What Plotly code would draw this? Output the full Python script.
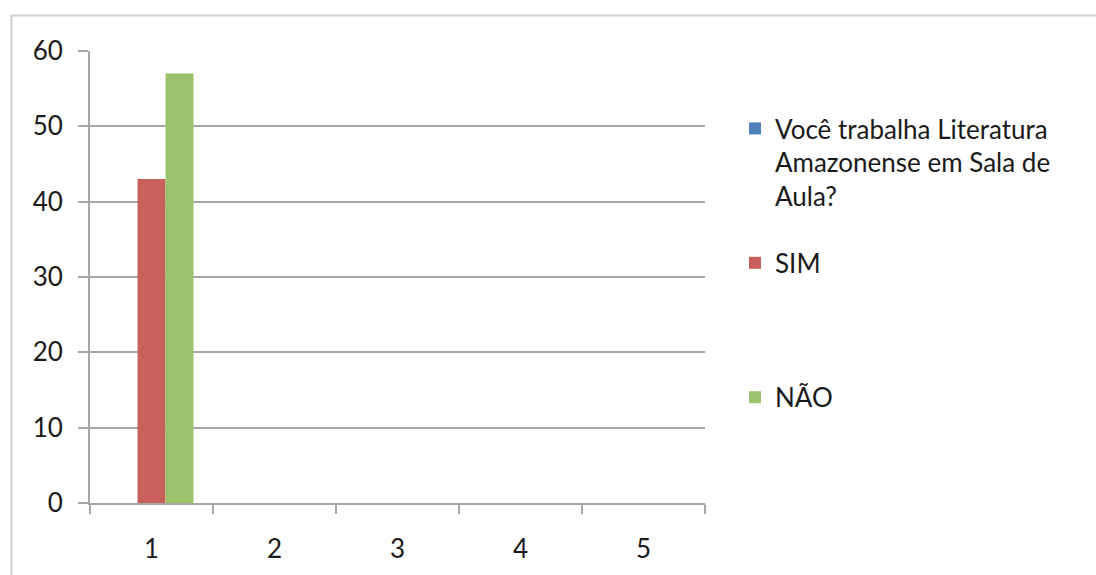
import plotly.graph_objects as go

categories = ["1", "2", "3", "4", "5"]
series_names = ["Você trabalha Literatura<br>Amazonense em Sala de<br>Aula?", "SIM<br> <br> ", "NÃO"]
serie_pergunta = [None, None, None, None, None]
serie_sim = [43, None, None, None, None]
serie_nao = [57, None, None, None, None]
y_ticks = [0, 10, 20, 30, 40, 50, 60]

colors = ["#4F81BD", "#C9605B", "#9DC26E"]
FONT = "Lato"
GRID = "#A6A6A6"
FS = 26

fig = go.Figure()
for i, (name, vals) in enumerate(zip(series_names, [serie_pergunta, serie_sim, serie_nao])):
    fig.add_trace(go.Bar(x=categories, y=vals, name=name, marker_color=colors[i],
                         marker_line_width=0, legendgroup=str(i)))

W, H = 1096, 575
L, R, T, B = 90, 705, 51, 503
pw, ph = R - L, B - T

fig.update_layout(
    width=W, height=H,
    margin=dict(l=L, r=W - R, t=T, b=H - B),
    paper_bgcolor="white", plot_bgcolor="white",
    barmode="group", bargap=0.317, bargroupgap=0,
    font=dict(family=FONT, size=FS, color="#1A1A1A"),
    showlegend=True,
    legend=dict(x=(735 - L) / pw, xanchor="left", y=(B - 105) / ph, yanchor="top",
                valign="top", tracegroupgap=30, font=dict(size=FS, family=FONT),
                traceorder="grouped", bgcolor="rgba(0,0,0,0)"),
    xaxis=dict(type="category", tickson="boundaries", ticks="outside", ticklen=9,
               tickcolor=GRID, tickwidth=2, showline=True, linecolor=GRID, linewidth=2,
               showgrid=False, tickfont=dict(size=FS, family=FONT), ticklabelstandoff=22),
    yaxis=dict(range=[0, 60], tickvals=y_ticks, ticks="outside", ticklen=10,
               tickcolor=GRID, tickwidth=2, showline=True, linecolor=GRID, linewidth=2,
               showgrid=True, gridcolor=GRID, gridwidth=2, zeroline=False,
               tickfont=dict(size=FS, family=FONT), ticklabelstandoff=10),
    shapes=[dict(type="rect", xref="paper", yref="paper",
                 x0=(11.5 - L) / pw, x1=(W + 30 - L) / pw,
                 y0=(B - (H + 30)) / ph, y1=(B - 15.5) / ph,
                 line=dict(color="#D0D0D0", width=2), fillcolor="rgba(0,0,0,0)", layer="below")],
)

fig.write_html("out.html")
